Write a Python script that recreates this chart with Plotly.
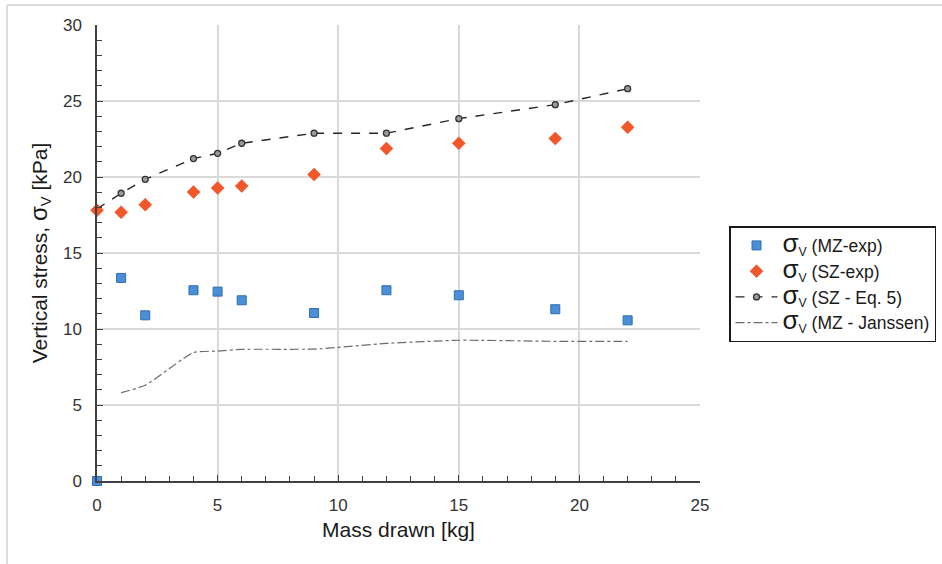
import plotly.graph_objects as go

mass = [0, 1, 2, 4, 5, 6, 9, 12, 15, 19, 22]
mz_exp = [0.0, 13.36, 10.9, 12.55, 12.46, 11.89, 11.05, 12.55, 12.22, 11.3, 10.57]
sz_exp = [17.81, 17.68, 18.18, 19.01, 19.28, 19.41, 20.16, 21.87, 22.22, 22.53, 23.27]
sz_eq5 = [17.9, 18.93, 19.85, 21.21, 21.56, 22.22, 22.88, 22.88, 23.84, 24.76, 25.81]
mass_j = [1, 2, 4, 5, 6, 9, 12, 15, 19, 22]
mz_janssen = [5.81, 6.3, 8.45, 8.55, 8.66, 8.68, 9.05, 9.26, 9.19, 9.19]

FONT = "Liberation Sans, Arial, sans-serif"
SIG = "<span style='font-size:26px'>σ</span><sub>V</sub>"

fig = go.Figure()
fig.add_trace(go.Scatter(
    x=mass_j, y=mz_janssen, mode="lines", name=SIG + " (MZ - Janssen)",
    line=dict(color="#6b6b6b", width=1.2, dash="dashdot", shape="spline", smoothing=0.5),
    cliponaxis=False, legendrank=4))
fig.add_trace(go.Scatter(
    x=mass, y=sz_eq5, mode="lines+markers", name=SIG + " (SZ - Eq. 5)",
    line=dict(color="#262626", width=1.4, dash="dash"),
    marker=dict(symbol="circle", size=6, color="#9a9a9a", line=dict(color="#333333", width=1.3)),
    cliponaxis=False, legendrank=3))
fig.add_trace(go.Scatter(
    x=mass, y=sz_exp, mode="markers", name=SIG + " (SZ-exp)",
    marker=dict(symbol="diamond", size=10, color="#f2572a", line=dict(color="#e8461a", width=0.5)),
    cliponaxis=False, legendrank=2))
fig.add_trace(go.Scatter(
    x=mass, y=mz_exp, mode="markers", name=SIG + " (MZ-exp)",
    marker=dict(symbol="square", size=9, color="#4a8fd8", line=dict(color="#2f6db0", width=1)),
    cliponaxis=False, legendrank=1))

axis_common = dict(
    showgrid=True, gridcolor="#d9d9d9", gridwidth=1.5,
    showline=True, linecolor="#404040", linewidth=1.5,
    ticks="inside", ticklen=6, tickcolor="#404040", tickwidth=1.2,
    minor=dict(dtick=1, ticks="inside", ticklen=5, tickcolor="#404040", tickwidth=1.2, showgrid=False),
    tickfont=dict(family=FONT, size=17, color="#333333"),
    zeroline=False,
)

fig.update_xaxes(range=[0, 25], dtick=5, tick0=0,
                 title=dict(text="Mass drawn [kg]", font=dict(family=FONT, size=21, color="#1a1a1a"), standoff=8),
                 ticklabelstandoff=8, **axis_common)
fig.update_yaxes(range=[0, 30], dtick=5, tick0=0,
                 title=dict(text="Vertical stress, <span style='font-size:24px'>σ</span><sub>V</sub> [kPa]",
                            font=dict(family=FONT, size=21, color="#1a1a1a"), standoff=10),
                 ticklabelstandoff=10, **axis_common)

pw = 942 - 97 - 242
ph = 564 - 25 - 83

fig.update_layout(
    width=942, height=564,
    margin=dict(l=97, r=242, t=25, b=83, autoexpand=False),
    plot_bgcolor="white", paper_bgcolor="white",
    font=dict(family=FONT, color="#1a1a1a"),
    legend=dict(
        x=729 / 942, y=1 - 226 / 564, xanchor="left", yanchor="top",
        xref="container", yref="container",
        font=dict(family=FONT, size=17.5, color="#1a1a1a"),
        bordercolor="#1a1a1a", borderwidth=1.5, bgcolor="white",
        traceorder="normal", itemwidth=42, tracegroupgap=0,
    ),
    showlegend=True,
)

# light outer chart frame (top and left edges)
fig.add_shape(type="line", xref="paper", yref="paper",
              x0=(7 - 97) / pw, x1=(942 - 97) / pw, y0=(564 - 83 - 5) / ph, y1=(564 - 83 - 5) / ph,
              line=dict(color="#dcdcdc", width=2), layer="below")
fig.add_shape(type="line", xref="paper", yref="paper",
              x0=(7 - 97) / pw, x1=(7 - 97) / pw, y0=(564 - 83 - 5) / ph, y1=-83 / ph,
              line=dict(color="#dcdcdc", width=2), layer="below")

fig.write_html("out.html")
